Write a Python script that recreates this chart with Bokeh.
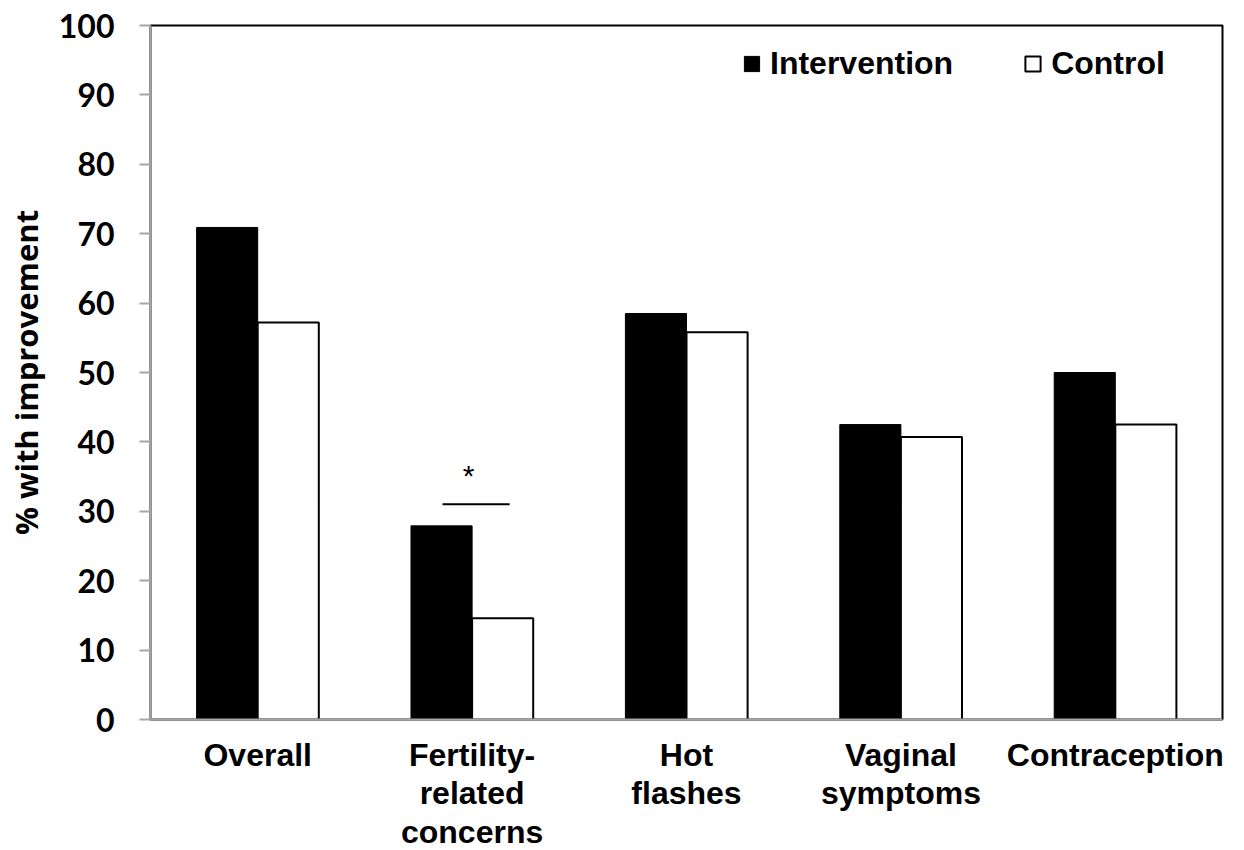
from bokeh.plotting import figure
from bokeh.models import ColumnDataSource, FactorRange, Legend, LegendItem, Range1d, FixedTicker
from bokeh.transform import dodge
from bokeh.core.properties import value
from bokeh.embed import file_html
from bokeh.resources import INLINE

# ---- data ----
categories = ["Overall", "Fertility-\nrelated\nconcerns", "Hot\nflashes", "Vaginal\nsymptoms", "Contraception"]
intervention = [70.9, 27.9, 58.5, 42.5, 50.0]
control = [57.2, 14.6, 55.8, 40.7, 42.5]
series_names = ["Intervention", "Control"]
y_ticks = [0, 10, 20, 30, 40, 50, 60, 70, 80, 90, 100]
sig_category = ["Fertility-\nrelated\nconcerns"]
sig_line_y = [31.0]
sig_star_y = [35.2]
sig_text = ["*"]

source = ColumnDataSource(dict(cat=categories, intervention=intervention, control=control))

p = figure(
    x_range=FactorRange(*categories, range_padding=0, factor_padding=0),
    y_range=Range1d(0, 100),
    frame_width=1072, frame_height=694,
    output_backend="svg", toolbar_location=None,
    min_border_left=150, min_border_right=14, min_border_top=25, min_border_bottom=120,
)
p.xgrid.visible = False
p.ygrid.visible = False
p.outline_line_color = "black"
p.outline_line_width = 2
p.background_fill_color = "white"
p.border_fill_color = "white"

bar_w = 0.285
r1 = p.vbar(x=dodge("cat", -bar_w / 2, range=p.x_range), top="intervention", width=bar_w,
            source=source, fill_color="black", line_color="black", line_width=1)
r2 = p.vbar(x=dodge("cat", bar_w / 2, range=p.x_range), top="control", width=bar_w,
            source=source, fill_color="white", line_color="black", line_width=2)

# y axis
ya = p.yaxis[0]
ya.ticker = FixedTicker(ticks=y_ticks)
ya.axis_line_color = "#a6a6a6"
ya.axis_line_width = 2
ya.major_tick_line_color = "#a6a6a6"
ya.major_tick_line_width = 2
ya.major_tick_out = 11
ya.major_tick_in = 0
ya.minor_tick_line_color = None
ya.major_label_text_font = "Lato"
ya.major_label_text_font_style = "bold"
ya.major_label_text_font_size = "32px"
ya.major_label_text_color = "black"
ya.major_label_standoff = 25
ya.axis_label = "% with improvement"
ya.axis_label_text_font = "Open Sans"
ya.axis_label_text_font_style = "bold"
ya.axis_label_text_font_size = "31px"
ya.axis_label_text_color = "black"
ya.axis_label_standoff = 9

# x axis
xa = p.xaxis[0]
xa.axis_line_color = "#a6a6a6"
xa.axis_line_width = 2
xa.major_tick_line_color = None
xa.minor_tick_line_color = None
xa.major_label_text_font = "Liberation Sans"
xa.major_label_text_font_style = "bold"
xa.major_label_text_font_size = "32px"
xa.major_label_text_line_height = 1.08
xa.major_label_text_color = "black"
xa.major_label_standoff = 11

# significance marker
sig_src = ColumnDataSource(dict(cat=sig_category, y=sig_line_y, sy=sig_star_y, t=sig_text))
p.segment(x0=dodge("cat", -0.138, range=p.x_range), x1=dodge("cat", 0.175, range=p.x_range),
          y0="y", y1="y", source=sig_src, line_color="black", line_width=2)
p.text(x=dodge("cat", -0.016, range=p.x_range), y="sy", text="t", source=sig_src,
       text_font=value("Liberation Sans"), text_font_size="30px", text_align="center",
       text_baseline="middle", text_color="black")

legend = Legend(
    items=[LegendItem(label=series_names[0], renderers=[r1]),
           LegendItem(label=series_names[1], renderers=[r2])],
    orientation="horizontal", location=(592, 637),
    glyph_width=19, glyph_height=19, label_standoff=9, spacing=70,
    label_text_font="Liberation Sans", label_text_font_style="bold",
    label_text_font_size="32px", label_text_color="black",
    padding=0, margin=0, border_line_color=None, background_fill_alpha=0,
)
p.add_layout(legend)

open("out.html", "w").write(file_html(p, INLINE))
